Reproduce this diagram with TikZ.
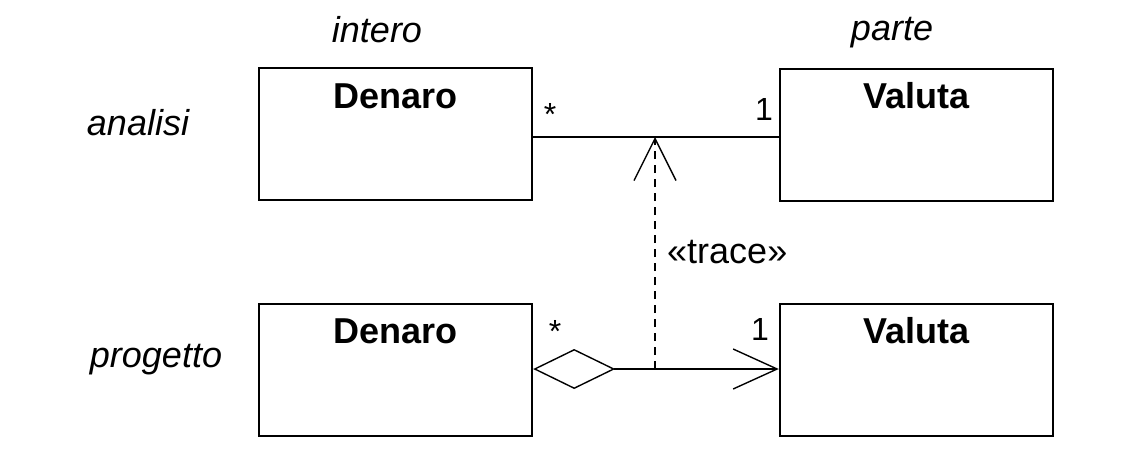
\documentclass[tikz,border=0pt]{standalone}
\usepackage{fontspec}
\setmainfont{Liberation Sans}
\usetikzlibrary{arrows.meta}
\tikzset{
  cls/.style={draw, line width=2.4pt, minimum width=273pt, minimum height=132pt, inner sep=0pt},
  title/.style={font=\fontsize{36}{40}\selectfont\bfseries, anchor=base, inner sep=0pt},
  lbl/.style={font=\fontsize{36}{40}\selectfont\itshape, anchor=base, inner sep=0pt},
  mult/.style={font=\fontsize{32}{36}\selectfont, anchor=base, inner sep=0pt},
  conn/.style={line width=1.4pt},
  open arrow/.style={-{Straight Barb[length=42pt,width=42pt,line width=1.4pt]}},
}
\begin{document}
\begin{tikzpicture}[x=1pt,y=-1pt]
\useasboundingbox (0,0) rectangle (1134,459);
% classes
\node[cls] (TL) at (395.5,134) {};
\node[cls] (TR) at (916.5,135) {};
\node[cls] (BL) at (395.5,370) {};
\node[cls] (BR) at (916.5,370) {};
\node[title] (tTL) at (395.5,108) {Denaro};
\node[title] (tTR) at (916.5,108) {Valuta};
\node[title] (tBL) at (395.5,343) {Denaro};
\node[title] (tBR) at (916.5,343) {Valuta};
% side labels
\node[lbl] (intero) at (377,42) {intero};
\node[lbl] (parte) at (892,40) {parte};
\node[lbl] (analisi) at (138,135) {analisi};
\node[lbl] (progetto) at (156,367) {progetto};
% association points
\coordinate (tm) at (655,137);
\coordinate (bm) at (655,369);
% top association
\draw[conn] (TL.east |- tm) -- (TR.west |- tm);
% bottom aggregation
\draw[conn, {Diamond[open,length=82pt,width=40pt,line width=1.4pt]}-{Straight Barb[length=44pt,width=40pt,line width=1.4pt]}] (BL.east |- bm) -- (BR.west |- bm);
% trace dependency
\draw[conn, dash pattern=on 8pt off 6pt, open arrow] (bm) -- (tm);
\node[font=\fontsize{36}{40}\selectfont, anchor=base west, inner sep=0pt] (trace) at (667,263) {«trace»};
% multiplicities
\node[mult] (m1) at (550,125) {*};
\node[mult] (m2) at (764,120) {1};
\node[mult] (m3) at (555,342) {*};
\node[mult] (m4) at (760,340) {1};
\end{tikzpicture}
\end{document}
